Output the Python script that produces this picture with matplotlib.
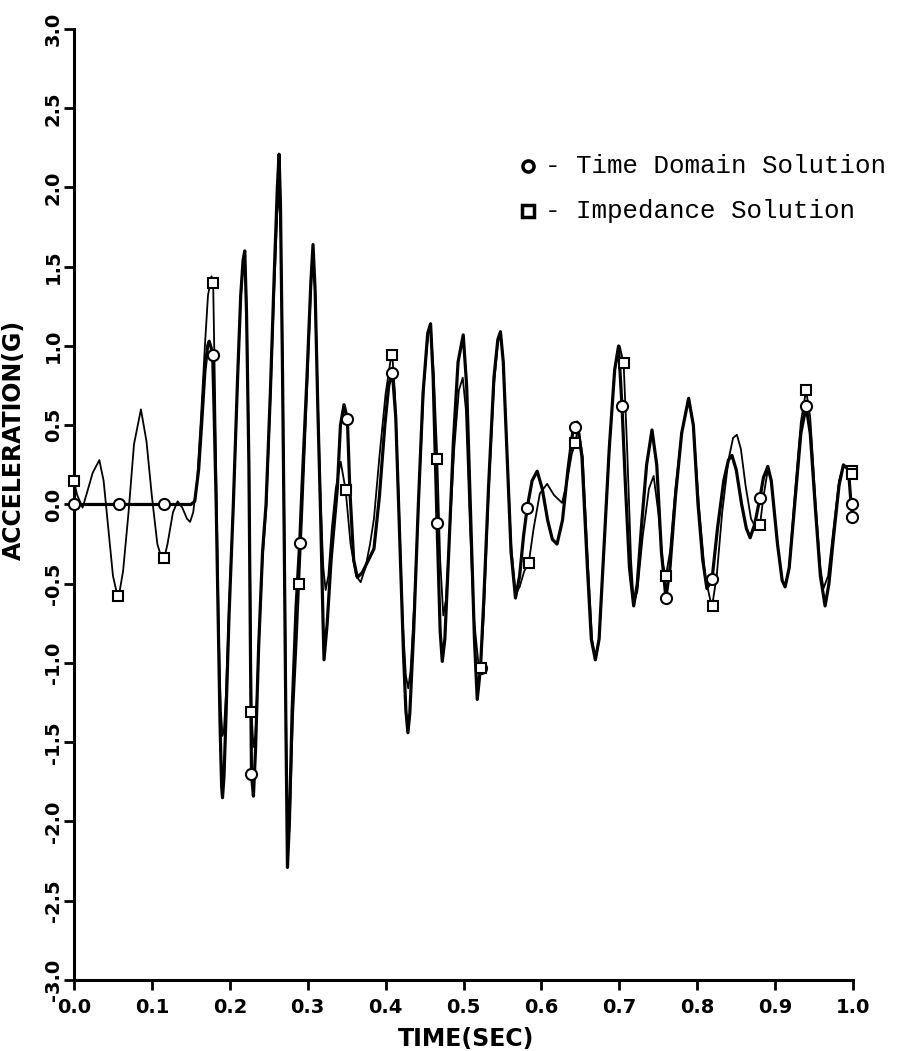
import matplotlib
matplotlib.use('Agg')
import matplotlib.pyplot as plt

plt.rcParams['axes.unicode_minus'] = False

# Time domain solution (heavy curve)
td_t = [0.000, 0.150, 0.155, 0.160, 0.164, 0.168, 0.1715, 0.1735, 0.176, 0.178,
        0.180, 0.1825, 0.185, 0.1875, 0.1895, 0.1906, 0.1925, 0.195, 0.199, 0.2045,
        0.210, 0.214, 0.217, 0.2192, 0.2215, 0.2245, 0.2278, 0.2303, 0.233, 0.237,
        0.242, 0.2465, 0.252, 0.257, 0.261, 0.2632, 0.265, 0.2675, 0.2698, 0.272,
        0.274, 0.2765, 0.280, 0.285, 0.2897, 0.293, 0.299, 0.304, 0.3068, 0.3095,
        0.313, 0.3167, 0.319, 0.3209, 0.325, 0.330, 0.338, 0.342, 0.3466, 0.3509,
        0.354, 0.359, 0.3637, 0.370, 0.378, 0.385, 0.392, 0.399, 0.404, 0.4086,
        0.413, 0.418, 0.423, 0.426, 0.4286, 0.431, 0.436, 0.442, 0.448, 0.454,
        0.4577, 0.461, 0.466, 0.470, 0.4727, 0.476, 0.481, 0.487, 0.493, 0.4996,
        0.504, 0.509, 0.514, 0.5176, 0.5218, 0.526, 0.532, 0.539, 0.544, 0.5474,
        0.551, 0.556, 0.561, 0.5667, 0.572, 0.577, 0.5817, 0.588, 0.5945, 0.601,
        0.608, 0.614, 0.620, 0.627, 0.634, 0.640, 0.6436, 0.6457, 0.652, 0.659,
        0.664, 0.6692, 0.674, 0.680, 0.687, 0.694, 0.699, 0.7034, 0.708, 0.713,
        0.7184, 0.723, 0.729, 0.735, 0.7419, 0.748, 0.754, 0.7598, 0.765, 0.772,
        0.780, 0.7889, 0.795, 0.801, 0.807, 0.8124, 0.819, 0.826, 0.834, 0.840,
        0.8445, 0.850, 0.857, 0.863, 0.8679, 0.874, 0.880, 0.885, 0.8906, 0.895,
        0.903, 0.909, 0.9128, 0.918, 0.925, 0.933, 0.9397, 0.945, 0.952, 0.958,
        0.9641, 0.969, 0.975, 0.982, 0.9876, 0.994, 0.9975, 1.000]
td_v = [0.00, 0.00, 0.02, 0.22, 0.52, 0.84, 1.00, 1.03, 0.99, 0.94,
        0.55, 0.00, -0.70, -1.40, -1.78, -1.85, -1.72, -1.35, -0.70, 0.00,
        0.80, 1.32, 1.54, 1.60, 1.20, 0.25, -1.70, -1.84, -1.55, -0.90,
        -0.30, 0.00, 0.70, 1.45, 2.00, 2.21, 1.90, 0.90, -0.20, -1.40,
        -2.29, -2.00, -1.30, -0.65, -0.24, 0.15, 0.80, 1.40, 1.64, 1.35,
        0.60, -0.10, -0.60, -0.98, -0.75, -0.35, 0.10, 0.50, 0.63, 0.54,
        0.10, -0.35, -0.46, -0.43, -0.35, -0.28, 0.05, 0.50, 0.75, 0.84,
        0.55, -0.20, -0.95, -1.30, -1.44, -1.32, -0.80, 0.00, 0.70, 1.08,
        1.14, 0.80, -0.12, -0.80, -0.99, -0.85, -0.30, 0.40, 0.90, 1.07,
        0.75, -0.05, -0.85, -1.23, -1.03, -0.60, 0.10, 0.80, 1.04, 1.09,
        0.90, 0.30, -0.30, -0.59, -0.45, -0.20, -0.02, 0.15, 0.21, 0.10,
        -0.10, -0.22, -0.25, -0.10, 0.22, 0.45, 0.49, 0.52, 0.30, -0.40,
        -0.85, -0.98, -0.85, -0.30, 0.35, 0.85, 1.00, 0.62, 0.10, -0.40,
        -0.64, -0.50, -0.10, 0.25, 0.47, 0.25, -0.30, -0.59, -0.40, 0.05,
        0.45, 0.67, 0.50, 0.00, -0.35, -0.53, -0.47, -0.15, 0.15, 0.28,
        0.31, 0.22, 0.00, -0.15, -0.21, -0.12, 0.03, 0.17, 0.24, 0.15,
        -0.25, -0.48, -0.52, -0.40, 0.00, 0.45, 0.62, 0.45, -0.05, -0.45,
        -0.64, -0.50, -0.20, 0.12, 0.25, 0.22, 0.00, -0.08]

# Impedance solution (light curve)
imp_t = [0.000, 0.004, 0.011, 0.017, 0.024, 0.0325, 0.038, 0.044, 0.050, 0.0568,
         0.063, 0.070, 0.077, 0.0859, 0.093, 0.100, 0.107, 0.1137, 0.1158, 0.120,
         0.127, 0.133, 0.139, 0.145, 0.149, 0.153, 0.158, 0.163, 0.168, 0.172,
         0.1765, 0.1786, 0.181, 0.1835, 0.186, 0.1885, 0.1906, 0.1925, 0.195, 0.199,
         0.2045, 0.210, 0.214, 0.217, 0.2192, 0.2215, 0.2245, 0.2278, 0.2303, 0.233,
         0.237, 0.242, 0.247, 0.252, 0.257, 0.261, 0.2632, 0.2655, 0.268, 0.2705,
         0.2725, 0.2745, 0.277, 0.281, 0.286, 0.289, 0.293, 0.299, 0.304, 0.3068,
         0.3095, 0.313, 0.3167, 0.320, 0.323, 0.3265, 0.331, 0.336, 0.3423, 0.3487,
         0.355, 0.362, 0.368, 0.374, 0.380, 0.385, 0.392, 0.400, 0.406, 0.4086,
         0.412, 0.417, 0.422, 0.426, 0.429, 0.432, 0.437, 0.443, 0.449, 0.4545,
         0.4577, 0.462, 0.4663, 0.470, 0.474, 0.4775, 0.482, 0.488, 0.494, 0.499,
         0.503, 0.508, 0.513, 0.520, 0.5218, 0.526, 0.532, 0.539, 0.544, 0.5474,
         0.551, 0.556, 0.561, 0.5667, 0.572, 0.578, 0.5837, 0.590, 0.598, 0.6073,
         0.616, 0.6265, 0.633, 0.639, 0.6436, 0.647, 0.653, 0.660, 0.665, 0.6692,
         0.674, 0.680, 0.687, 0.694, 0.7004, 0.7055, 0.710, 0.715, 0.7184, 0.723,
         0.730, 0.738, 0.744, 0.750, 0.756, 0.7598, 0.765, 0.772, 0.780, 0.7889,
         0.795, 0.802, 0.810, 0.8188, 0.825, 0.832, 0.840, 0.846, 0.8509, 0.856,
         0.862, 0.869, 0.8744, 0.8805, 0.885, 0.8906, 0.895, 0.903, 0.909, 0.9128,
         0.918, 0.925, 0.933, 0.9397, 0.945, 0.952, 0.958, 0.962, 0.968, 0.975,
         0.982, 0.9876, 0.993, 1.000]
imp_v = [0.15, 0.06, -0.02, 0.08, 0.20, 0.28, 0.15, -0.15, -0.45, -0.60,
         -0.42, -0.05, 0.38, 0.60, 0.40, 0.05, -0.25, -0.36, -0.34, -0.25,
         -0.05, 0.02, -0.02, -0.09, -0.11, -0.05, 0.15, 0.55, 1.00, 1.32,
         1.44, 1.40, 0.70, -0.10, -0.85, -1.30, -1.46, -1.42, -1.20, -0.65,
         0.00, 0.80, 1.30, 1.52, 1.58, 1.25, 0.35, -1.31, -1.53, -1.45,
         -0.90, -0.35, 0.00, 0.65, 1.35, 1.85, 1.95, 1.70, 0.80, -0.40,
         -1.50, -2.20, -2.00, -1.35, -0.85, -0.50, -0.05, 0.70, 1.35, 1.60,
         1.35, 0.65, 0.00, -0.40, -0.54, -0.45, -0.15, 0.10, 0.27, 0.09,
         -0.25, -0.45, -0.49, -0.40, -0.25, -0.09, 0.30, 0.70, 0.90, 0.94,
         0.70, 0.00, -0.75, -1.08, -1.16, -1.05, -0.60, 0.10, 0.75, 1.08,
         1.14, 0.80, 0.29, -0.35, -0.70, -0.60, -0.20, 0.35, 0.72, 0.80,
         0.60, -0.10, -0.70, -1.05, -1.03, -0.70, 0.05, 0.75, 1.02, 1.09,
         0.90, 0.30, -0.25, -0.57, -0.52, -0.42, -0.37, -0.15, 0.07, 0.13,
         0.06, 0.01, 0.15, 0.32, 0.39, 0.50, 0.30, -0.40, -0.85, -0.98,
         -0.85, -0.30, 0.35, 0.85, 1.00, 0.89, 0.35, -0.35, -0.62, -0.55,
         -0.20, 0.10, 0.18, -0.05, -0.38, -0.45, -0.30, 0.10, 0.45, 0.67,
         0.50, 0.00, -0.45, -0.65, -0.45, -0.05, 0.28, 0.42, 0.44, 0.35,
         0.12, -0.09, -0.14, -0.13, 0.05, 0.22, 0.15, -0.25, -0.48, -0.52,
         -0.40, 0.05, 0.52, 0.72, 0.55, 0.00, -0.40, -0.53, -0.45, -0.15,
         0.15, 0.25, 0.23, 0.19]

# plotted symbols
td_mark_t = [0.000, 0.0581, 0.1158, 0.1778, 0.2278, 0.2897, 0.3509, 0.4086, 0.4660,
             0.5218, 0.5817, 0.6436, 0.7034, 0.7598, 0.8190, 0.8800, 0.9397, 0.9985, 0.9990]
td_mark_v = [0.00, 0.00, 0.00, 0.94, -1.70, -0.24, 0.54, 0.83, -0.12,
             -1.03, -0.02, 0.49, 0.62, -0.59, -0.47, 0.04, 0.62, 0.00, -0.08]
imp_mark_t = [0.000, 0.0568, 0.1158, 0.1786, 0.2278, 0.2890, 0.3487, 0.4086, 0.4663,
              0.5218, 0.5837, 0.6436, 0.7055, 0.7598, 0.8201, 0.8805, 0.9397, 0.9985, 0.9990]
imp_mark_v = [0.15, -0.58, -0.34, 1.40, -1.31, -0.50, 0.09, 0.94, 0.29,
              -1.03, -0.37, 0.39, 0.89, -0.45, -0.64, -0.13, 0.72, 0.21, 0.19]

x_ticks = [0.0, 0.1, 0.2, 0.3, 0.4, 0.5, 0.6, 0.7, 0.8, 0.9, 1.0]
y_ticks = [-3.0, -2.5, -2.0, -1.5, -1.0, -0.5, 0.0, 0.5, 1.0, 1.5, 2.0, 2.5, 3.0]

fig = plt.figure(figsize=(9.08, 10.51), dpi=100)
ax = fig.add_axes([0.0815, 0.0676, 0.858, 0.9048])

ax.plot(td_t, td_v, color='black', lw=2.3, solid_joinstyle='round', clip_on=False)
ax.plot(imp_t, imp_v, color='black', lw=1.3, solid_joinstyle='round', clip_on=False)
ax.plot(td_mark_t, td_mark_v, 'o', ms=8, mfc='white', mec='black', mew=1.5,
        clip_on=False, zorder=3)
ax.plot(imp_mark_t, imp_mark_v, 's', ms=7.5, mfc='white', mec='black', mew=1.5,
        clip_on=False, zorder=3)

ax.set_xlim(0, 1)
ax.set_ylim(-3, 3)
ax.set_xticks(x_ticks)
ax.set_yticks(y_ticks)
ax.set_xticklabels([f'{v:.1f}' for v in x_ticks])
ax.set_yticklabels([f'{v:.1f}' for v in y_ticks])

for side in ['top', 'right']:
    ax.spines[side].set_visible(False)
ax.spines['left'].set_linewidth(2.2)
ax.spines['bottom'].set_linewidth(2.2)
ax.tick_params(axis='both', direction='out', length=7, width=2)
ax.tick_params(axis='x', pad=6, labelsize=14)
ax.tick_params(axis='y', pad=1, labelsize=14)
for lab in ax.get_xticklabels() + ax.get_yticklabels():
    lab.set_fontweight('bold')
plt.setp(ax.get_yticklabels(), rotation=90, va='center')

ax.set_xlabel('TIME(SEC)', fontsize=17, fontweight='bold')
ax.xaxis.set_label_coords(0.503, -0.049)
ax.set_ylabel('ACCELERATION(G)', fontsize=17, fontweight='bold')
ax.yaxis.set_label_coords(-0.062, 0.568)

# key, typed in the upper right
ax.plot([0.583], [0.856], 'o', ms=8, mfc='white', mec='black', mew=2.5,
        transform=ax.transAxes, clip_on=False)
ax.plot([0.583], [0.809], 's', ms=8, mfc='white', mec='black', mew=2.5,
        transform=ax.transAxes, clip_on=False)
ax.text(0.605, 0.856, '- Time Domain Solution', transform=ax.transAxes,
        family='Liberation Mono', fontsize=18.6, va='center', ha='left')
ax.text(0.605, 0.809, '- Impedance Solution', transform=ax.transAxes,
        family='Liberation Mono', fontsize=18.6, va='center', ha='left')

fig.savefig('out.png', dpi=100)
